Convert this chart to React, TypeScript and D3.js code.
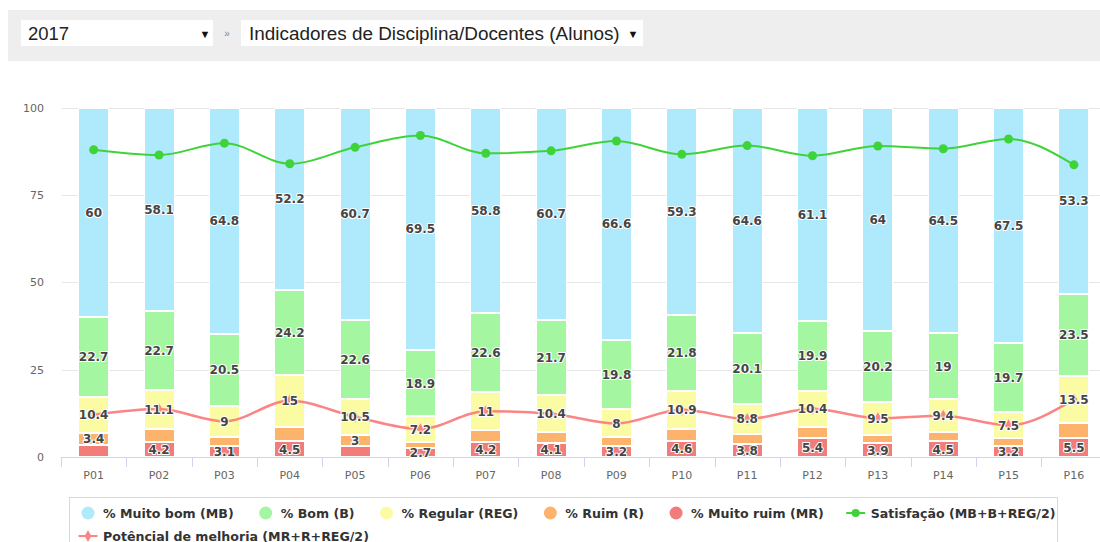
import { useRef, useEffect } from "react";
import * as d3 from "d3";

const categories = ["P01", "P02", "P03", "P04", "P05", "P06", "P07", "P08", "P09", "P10", "P11", "P12", "P13", "P14", "P15", "P16"];
const muitoBom = [60, 58.1, 64.8, 52.2, 60.7, 69.5, 58.8, 60.7, 66.6, 59.3, 64.6, 61.1, 64, 64.5, 67.5, 53.3];
const bom = [22.7, 22.7, 20.5, 24.2, 22.6, 18.9, 22.6, 21.7, 19.8, 21.8, 20.1, 19.9, 20.2, 19, 19.7, 23.5];
const regular = [10.4, 11.1, 9, 15, 10.5, 7.2, 11, 10.4, 8, 10.9, 8.8, 10.4, 9.5, 9.4, 7.5, 13.5];
const ruim = [3.4, 3.9, 2.6, 4.1, 3, 1.7, 3.4, 3.1, 2.4, 3.4, 2.7, 3.2, 2.4, 2.6, 2.1, 4.2];
const muitoRuim = [3.5, 4.2, 3.1, 4.5, 3.2, 2.7, 4.2, 4.1, 3.2, 4.6, 3.8, 5.4, 3.9, 4.5, 3.2, 5.5];
const satisfacao = [87.9, 86.4, 89.8, 83.9, 88.6, 92, 86.9, 87.6, 90.4, 86.6, 89.1, 86.2, 89, 88.2, 91, 83.6];
const potencial = [12.1, 13.7, 10.2, 16.1, 11.5, 8, 13.1, 12.4, 9.6, 13.5, 10.9, 13.8, 11.1, 11.8, 9.1, 16.5];
// which bars show a label on the small segments (the chart hid overlapping ones)
const ruimLabelShown = [true, false, false, false, true, false, false, false, false, false, false, false, false, false, false, false];
const yTicks = [0, 25, 50, 75, 100];

const columnSeries = [
  { key: "mr", name: "% Muito ruim (MR)", values: muitoRuim, color: "#f27c7a" },
  { key: "r", name: "% Ruim (R)", values: ruim, color: "#fdb36b" },
  { key: "reg", name: "% Regular (REG)", values: regular, color: "#fbfba3" },
  { key: "b", name: "% Bom (B)", values: bom, color: "#a4f7a0" },
  { key: "mb", name: "% Muito bom (MB)", values: muitoBom, color: "#aeeafb" },
];
const SAT_COLOR = "#3fd33a";
const POT_COLOR = "#fb8585";

export default function App() {
  const svgRef = useRef(null);

  useEffect(() => {
    const svg = d3.select(svgRef.current);
    svg.selectAll("*").remove();

    const left = 61;
    const step = 65.35;
    const x = d3
      .scaleBand()
      .domain(categories)
      .range([left, left + step * categories.length])
      .paddingInner(0.526)
      .paddingOuter(0.263);
    const y = d3.scaleLinear().domain([0, 100]).range([457, 107.5]);
    const bw = x.bandwidth();
    const cx = (c) => x(c) + bw / 2;

    // top selector bar
    const top = svg.append("g");
    top.append("rect").attr("x", 8).attr("y", 10).attr("width", 1092).attr("height", 51).attr("fill", "#eeeeee");
    top.append("rect").attr("x", 21).attr("y", 20).attr("width", 192).attr("height", 26).attr("fill", "#fff");
    top.append("rect").attr("x", 241).attr("y", 20).attr("width", 402).attr("height", 26).attr("fill", "#fff");
    const selFont = "'Liberation Sans', Arial, sans-serif";
    top.append("text").attr("x", 28).attr("y", 39.5).attr("font-family", selFont).attr("font-size", 18.5).attr("fill", "#222").text("2017");
    top.append("text").attr("x", 249).attr("y", 39.5).attr("font-family", selFont).attr("font-size", 18.9).attr("fill", "#222").text("Indicadores de Disciplina/Docentes (Alunos)");
    [205, 633].forEach((ax) =>
      top.append("text").attr("x", ax).attr("y", 37.5).attr("text-anchor", "middle").attr("font-family", selFont).attr("font-size", 11).attr("fill", "#111").text("▼")
    );
    top.append("text").attr("x", 227).attr("y", 37).attr("text-anchor", "middle").attr("font-family", selFont).attr("font-size", 10).attr("fill", "#888").text("»");

    // grid + y labels
    const axisFont = "'DejaVu Sans', sans-serif";
    svg
      .append("g")
      .selectAll("line")
      .data(yTicks.filter((t) => t > 0))
      .join("line")
      .attr("x1", 62)
      .attr("x2", 1100)
      .attr("y1", (d) => Math.round(y(d)) + 0.5)
      .attr("y2", (d) => Math.round(y(d)) + 0.5)
      .attr("stroke", "#e6e6e6");
    svg
      .append("g")
      .selectAll("text")
      .data(yTicks)
      .join("text")
      .attr("x", 44)
      .attr("y", (d) => y(d) + 4)
      .attr("text-anchor", "end")
      .attr("font-family", axisFont)
      .attr("font-size", 11)
      .attr("fill", "#666")
      .text((d) => d);

    // stacked columns
    const rows = categories.map((c, i) => {
      const r = { cat: c };
      columnSeries.forEach((s) => (r[s.key] = s.values[i]));
      return r;
    });
    const stacked = d3.stack().keys(columnSeries.map((s) => s.key))(rows);
    const bars = svg.append("g");
    stacked.forEach((layer, li) => {
      bars
        .append("g")
        .selectAll("rect")
        .data(layer)
        .join("rect")
        .attr("x", (d) => Math.round(x(d.data.cat)) + 0.5)
        .attr("y", (d) => Math.round(y(d[1])) + 0.5)
        .attr("width", Math.round(bw) - 1)
        .attr("height", (d) => Math.max(0, Math.round(y(d[0])) - Math.round(y(d[1])) - 1))
        .attr("fill", columnSeries[li].color)
        .attr("stroke", "#fff")
        .attr("stroke-width", 1);
    });

    // x axis
    const ax = svg.append("g");
    ax.append("line").attr("x1", left).attr("x2", 1100).attr("y1", 457.5).attr("y2", 457.5).attr("stroke", "#ccd6eb");
    const bounds = categories.map((c) => cx(c) - step / 2);
    ax.selectAll("line.tick")
      .data(bounds)
      .join("line")
      .attr("class", "tick")
      .attr("x1", (d) => Math.round(d) + 0.5)
      .attr("x2", (d) => Math.round(d) + 0.5)
      .attr("y1", 457)
      .attr("y2", 467)
      .attr("stroke", "#ccd6eb");
    ax.selectAll("text")
      .data(categories)
      .join("text")
      .attr("x", (d) => cx(d))
      .attr("y", 479)
      .attr("text-anchor", "middle")
      .attr("font-family", axisFont)
      .attr("font-size", 11)
      .attr("fill", "#666")
      .text((d) => d);

    // lines
    const line = d3
      .line()
      .x((_, i) => cx(categories[i]))
      .y((d) => y(d))
      .curve(d3.curveMonotoneX);
    svg.append("path").datum(satisfacao).attr("d", line).attr("fill", "none").attr("stroke", SAT_COLOR).attr("stroke-width", 2);
    svg
      .append("g")
      .selectAll("circle")
      .data(satisfacao)
      .join("circle")
      .attr("cx", (_, i) => cx(categories[i]))
      .attr("cy", (d) => y(d))
      .attr("r", 4.5)
      .attr("fill", SAT_COLOR);
    svg.append("path").datum(potencial).attr("d", line).attr("fill", "none").attr("stroke", POT_COLOR).attr("stroke-width", 2.5);
    const diamond = d3.symbol().type(d3.symbolDiamond).size(40);
    svg
      .append("g")
      .selectAll("path")
      .data(potencial)
      .join("path")
      .attr("d", diamond)
      .attr("transform", (d, i) => `translate(${cx(categories[i])},${y(d)})`)
      .attr("fill", POT_COLOR);

    // data labels
    const labels = svg.append("g");
    stacked.forEach((layer, li) => {
      const key = columnSeries[li].key;
      const shown = layer.filter((d, i) => {
        if (key === "r") return ruimLabelShown[i];
        if (key === "mr") return !ruimLabelShown[i];
        return true;
      });
      labels
        .append("g")
        .selectAll("text")
        .data(shown)
        .join("text")
        .attr("x", (d) => cx(d.data.cat))
        .attr("y", (d) => (y(d[0]) + y(d[1])) / 2 + 4.5)
        .attr("text-anchor", "middle")
        .attr("font-family", axisFont)
        .attr("font-weight", "bold")
        .attr("font-size", 12)
        .attr("fill", "#454545")
        .attr("stroke", "#fff")
        .attr("stroke-width", 2)
        .attr("stroke-linejoin", "round")
        .attr("paint-order", "stroke")
        .text((d) => d.data[key]);
    });

    // legend
    const lg = svg.append("g");
    lg.append("rect").attr("x", 69.5).attr("y", 497.5).attr("width", 988).attr("height", 60).attr("fill", "none").attr("stroke", "#d8d8d8");
    const legendItems = [
      ...columnSeries.slice().reverse().map((s) => ({ name: s.name, color: s.color, kind: "col" })),
      { name: "Satisfação (MB+B+REG/2)", color: SAT_COLOR, kind: "sat" },
      { name: "Potêncial de melhoria (MR+R+REG/2)", color: POT_COLOR, kind: "pot" },
    ];
    let cursor = 82;
    let rowY = 513;
    legendItems.forEach((it) => {
      const g = lg.append("g");
      const t = g
        .append("text")
        .attr("x", cursor + 21)
        .attr("y", rowY + 4.5)
        .attr("font-family", axisFont)
        .attr("font-weight", "bold")
        .attr("font-size", 12.6)
        .attr("fill", "#333")
        .text(it.name);
      let w = t.node().getComputedTextLength();
      if (cursor + 21 + w > 1060) {
        cursor = 82;
        rowY += 23;
        t.attr("x", cursor + 21).attr("y", rowY + 4.5);
      }
      const c = cursor + 6;
      if (it.kind === "col") {
        g.append("circle").attr("cx", c).attr("cy", rowY).attr("r", 6.5).attr("fill", it.color);
      } else {
        g.append("line").attr("x1", c - 9.5).attr("x2", c + 9.5).attr("y1", rowY).attr("y2", rowY).attr("stroke", it.color).attr("stroke-width", 2);
        if (it.kind === "sat") g.append("circle").attr("cx", c).attr("cy", rowY).attr("r", 4).attr("fill", it.color);
        else g.append("path").attr("d", diamond).attr("transform", `translate(${c},${rowY})`).attr("fill", it.color);
      }
      cursor = cursor + 21 + w + 26;
    });
  }, []);

  return (
    <svg
      ref={svgRef}
      width={1100}
      height={542}
      style={{ position: "absolute", left: 0, top: 0, display: "block", background: "#fff" }}
    />
  );
}
